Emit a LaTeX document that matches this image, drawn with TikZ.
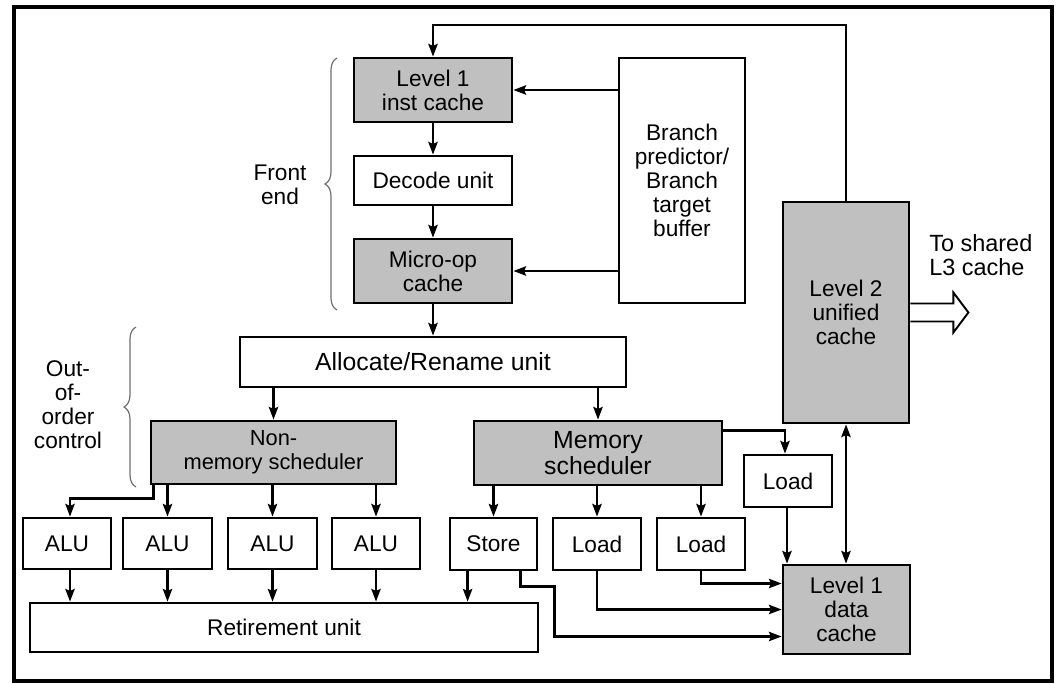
\documentclass[tikz,border=0pt]{standalone}
\usepackage{fontspec}
\setmainfont{Liberation Sans}
\usetikzlibrary{arrows.meta,calc,decorations.pathreplacing}
\definecolor{boxgray}{RGB}{192,192,192}
\definecolor{bracegray}{RGB}{110,110,110}
\begin{document}
\begin{tikzpicture}[x=0.75pt,y=-0.75pt,
  font=\fontsize{17}{18}\selectfont,
  corners/.style n args={4}{at={({(#1+#3)/2},{(#2+#4)/2})},
    minimum width={(#3-#1)*0.75pt}, minimum height={(#4-#2)*0.75pt}},
  box/.style={draw, line width=2.1pt, inner sep=0pt, align=center, fill=white},
  shaded/.style={box, fill=boxgray},
  arr/.style={line width=1.7pt, -{Stealth[length=9.5pt,width=7pt,inset=1.5pt]}},
  dblarr/.style={line width=1.7pt, {Stealth[length=9.5pt,width=7pt,inset=1.5pt]}-{Stealth[length=9.5pt,width=7pt,inset=1.5pt]}},
  grouping/.style={decorate, decoration={brace, amplitude=9pt}, draw=bracegray, line width=0.9pt},
  label/.style={align=center, inner sep=0pt}]

\useasboundingbox (0,0) rectangle (1059,684);
\draw[line width=2.5pt] (14,7) rectangle (1052,681);

% front end
\node[shaded, corners={354}{58}{512}{122}] (l1i) {Level 1\\inst cache};
\node[box, corners={354}{156}{512}{205}] (dec) {Decode unit};
\node[shaded, corners={354}{239}{512}{303}] (uop) {Micro-op\\cache};
\node[box, corners={619}{58}{745}{303}] (bp) {Branch\\predictor/\\Branch\\target\\buffer};

% caches
\node[shaded, corners={783}{202}{909}{423}] (l2) {Level 2\\unified\\cache};
\node[shaded, corners={783}{565}{910}{654}] (l1d) {Level 1\\data\\cache};

% out-of-order control
\node[box, corners={240}{337}{626}{387}, font=\fontsize{18.6}{19}\selectfont] (alloc) {Allocate/Rename unit};
\node[shaded, corners={151}{421}{396}{484}, font=\fontsize{16.4}{18}\selectfont] (ns) {Non-\\memory scheduler};
\node[shaded, corners={474}{421}{722}{485}, font=\fontsize{18.6}{19.5}\selectfont] (ms) {Memory\\scheduler};

% execution units
\node[box, corners={23}{518}{111}{569}] (alu1) {ALU};
\node[box, corners={123}{518}{212}{569}] (alu2) {ALU};
\node[box, corners={228}{518}{317}{569}] (alu3) {ALU};
\node[box, corners={332}{518}{420}{569}] (alu4) {ALU};
\node[box, corners={450}{518}{537}{570}] (st) {Store};
\node[box, corners={553}{518}{641}{570}] (ld1) {Load};
\node[box, corners={657}{518}{745}{570}] (ld2) {Load};
\node[box, corners={744}{455}{832}{507}] (ld3) {Load};
\node[box, corners={30}{603}{538}{652}] (ret) {Retirement unit};

% side labels and braces
\node[label] (fe) at (280,185) {Front\\end};
\node[label] (ooo) at (68,405) {Out-\\of-\\order\\control};
\draw[grouping] (337,310) -- (337,58);
\draw[grouping] (136,487) -- (136,327);
\node[label, align=left, anchor=west, font=\fontsize{17.6}{18.5}\selectfont] (l3) at (929,255) {To shared\\L3 cache};

% front-end flow
\coordinate (topline) at (0,25);
\draw[arr] (l2.north) -- (l2.north |- topline) -| (l1i.north);
\draw[arr] (bp.west |- l1i.east) -- (l1i.east);
\draw[arr] (bp.west |- uop.east) -- (uop.east);
\draw[arr] (l1i.south) -- (dec.north);
\draw[arr] (dec.south) -- (uop.north);
\draw[arr] (uop.south) -- (alloc.north);

% rename to schedulers
\draw[arr] (ns.north |- alloc.south) -- (ns.north);
\draw[arr] (ms.north |- alloc.south) -- (ms.north);

% non-memory scheduler to ALUs
\draw[arr] ($(ns.south west)+(4,0)$) -- ++(0,13) -| ($(alu1.north)+(3,0)$);
\draw[arr] (alu2.north |- ns.south) -- (alu2.north);
\draw[arr] (alu3.north |- ns.south) -- (alu3.north);
\draw[arr] (alu4.north |- ns.south) -- (alu4.north);

% memory scheduler to load/store units
\draw[arr] (st.north |- ms.south) -- (st.north);
\draw[arr] (ld1.north |- ms.south) -- (ld1.north);
\draw[arr] (ld2.north |- ms.south) -- (ld2.north);
\draw[arr] ($(ms.north east)+(0,11)$) -| ($(ld3.north)+(-3,0)$);

% results to retirement unit
\draw[arr] ($(alu1.south)+(3,0)$) coordinate (a1) -- (a1 |- ret.north);
\draw[arr] (alu2.south) -- (alu2.south |- ret.north);
\draw[arr] (alu3.south) -- (alu3.south |- ret.north);
\draw[arr] (alu4.south) -- (alu4.south |- ret.north);
\draw[arr] ($(st.south west)+(19,0)$) coordinate (s1) -- (s1 |- ret.north);

% load/store units to the level 1 data cache
\draw[arr] ($(ld3.south)+(-1,0)$) coordinate (d3) -- (d3 |- l1d.north);
\draw[arr] (ld2.south) |- ($(l1d.west)+(0,-26)$);
\draw[arr] (ld1.south) |- (l1d.west);
\draw[arr] ($(st.south east)+(-18,0)$) -- ++(0,15) -- ++(34,0) |- ($(l1d.west)+(0,27)$);
\draw[dblarr] (l2.south) -- (l2.south |- l1d.north);

% wide arrow towards the shared L3 cache
\draw[line width=1.4pt, fill=white] ($(l2.east)+(0,-9)$) -- ++(43,0) -- ++(0,-11)
  -- ++(15,20) -- ++(-15,20) -- ++(0,-11) -- ++(-43,0);
\end{tikzpicture}
\end{document}
